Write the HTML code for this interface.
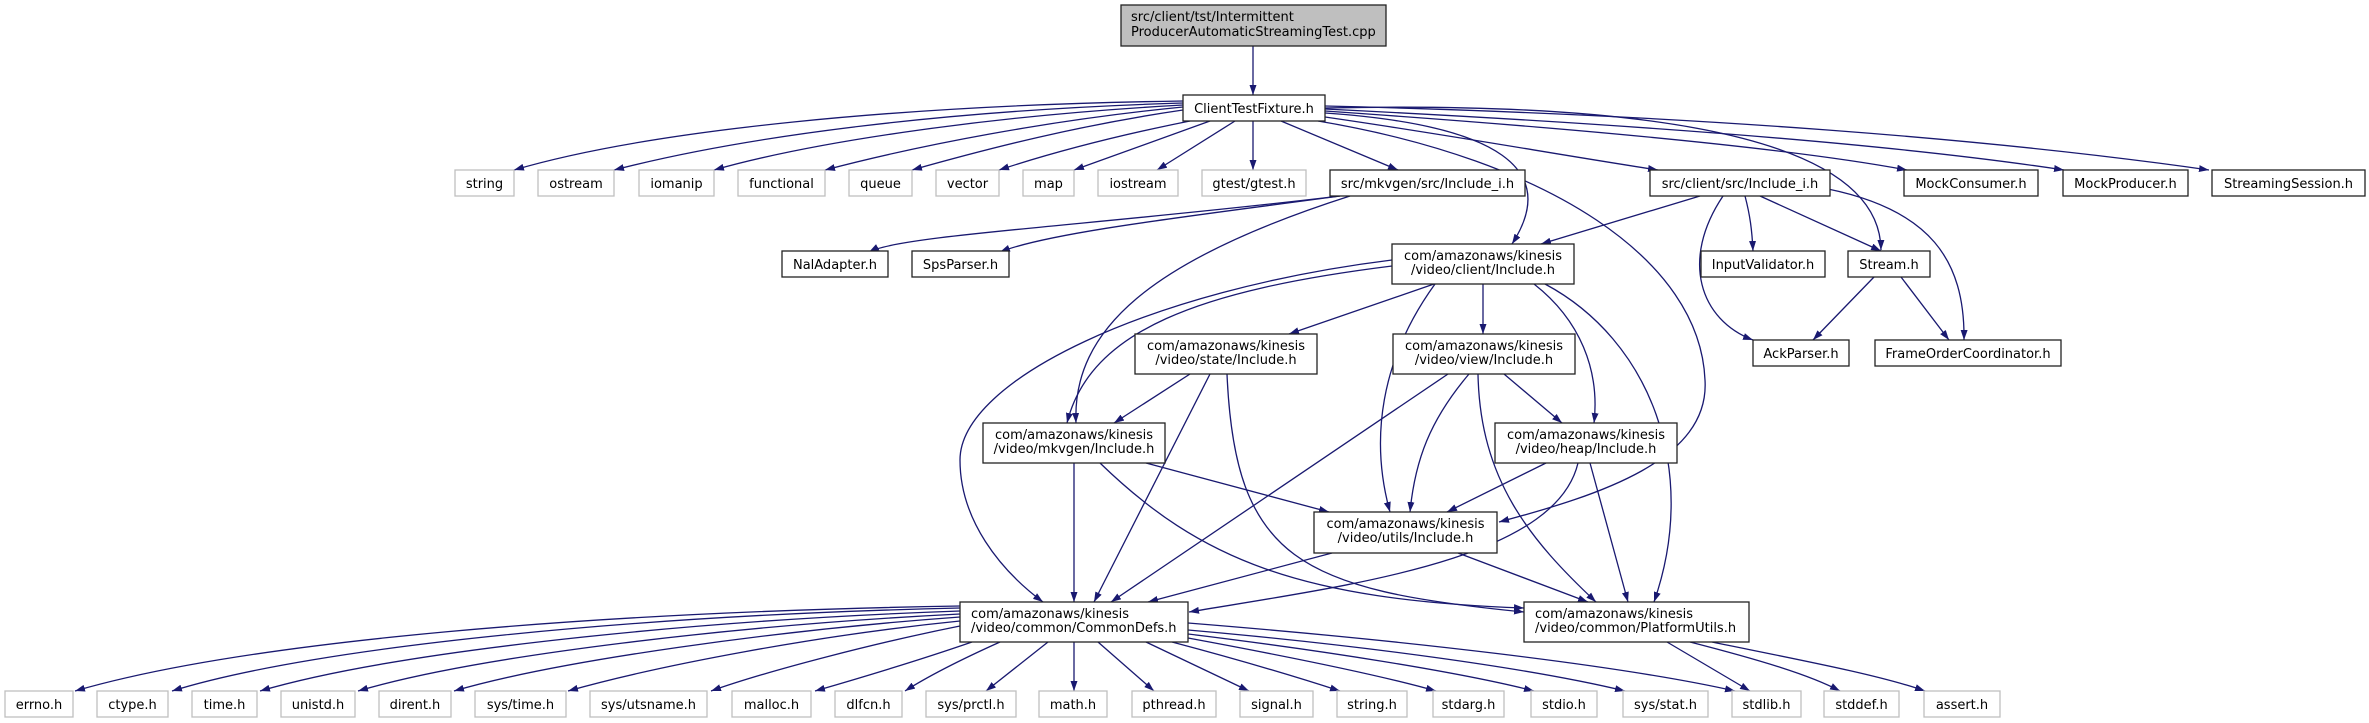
<!DOCTYPE html>
<html><head><meta charset="utf-8"><style>
html,body{margin:0;padding:0;background:#fff;}
svg{display:block;}
text{font-family:"DejaVu Sans","Liberation Sans",sans-serif;font-size:13px;fill:#000;}
.g{fill:#fff;stroke:#bfbfbf;stroke-width:1.3;}
.b{fill:#fff;stroke:#222;stroke-width:1.3;}
.e{fill:none;stroke:#191970;stroke-width:1.3;}
</style></head><body>
<svg width="2369" height="723" viewBox="0 0 2369 723" xmlns="http://www.w3.org/2000/svg">
<defs><marker id="a" viewBox="0 0 10 7" refX="10" refY="3.5" markerWidth="10" markerHeight="7" markerUnits="userSpaceOnUse" orient="auto"><path d="M0,0L10,3.5L0,7z" fill="#191970"/></marker></defs>
<g class="e" marker-end="url(#a)">
<path d="M1253,46L1253,95"/>
<path d="M1183,101C900,105 650,130 514,170"/>
<path d="M1183,103C950,110 750,135 614,170"/>
<path d="M1183,105C1000,115 820,140 714,170"/>
<path d="M1183,107C1050,120 920,145 825,170"/>
<path d="M1183,110C1080,125 990,148 912,170"/>
<path d="M1190,121C1120,135 1060,150 999,170"/>
<path d="M1210,121L1074,170"/>
<path d="M1235,121L1157,170"/>
<path d="M1253,121L1253,170"/>
<path d="M1281,121L1398,170"/>
<path d="M1325,113C1500,125 1560,170 1512,244"/>
<path d="M1325,117C1450,135 1560,155 1658,170"/>
<path d="M1318,121C1550,160 1700,260 1705,380C1710,460 1600,495 1499,522"/>
<path d="M1325,108C1700,100 1880,150 1881,250"/>
<path d="M1325,111C1600,130 1800,150 1907,170"/>
<path d="M1325,109C1650,125 1900,145 2064,170"/>
<path d="M1325,106C1700,115 2000,140 2209,170"/>
<path d="M1340,196C1100,225 900,235 869,252"/>
<path d="M1340,196C1200,215 1050,232 1000,252"/>
<path d="M1350,196C1150,260 1072,330 1076,423"/>
<path d="M1700,196L1541,244"/>
<path d="M1745,196C1750,215 1752,230 1753,251"/>
<path d="M1760,196L1881,251"/>
<path d="M1723,196C1680,260 1700,320 1753,340"/>
<path d="M1828,189C1930,210 1965,260 1964,340"/>
<path d="M1874,277L1813,340"/>
<path d="M1901,277L1949,340"/>
<path d="M1434,284L1289,334"/>
<path d="M1483,284L1483,334"/>
<path d="M1392,266C1200,290 1090,330 1067,423"/>
<path d="M1392,260C1150,290 960,380 960,460C960,520 1000,570 1043,602"/>
<path d="M1435,284C1380,360 1370,440 1390,512"/>
<path d="M1534,284C1580,320 1600,370 1594,423"/>
<path d="M1545,284C1650,340 1700,470 1654,602"/>
<path d="M1190,374L1114,423"/>
<path d="M1210,374L1094,602"/>
<path d="M1227,374C1235,560 1300,590 1524,612"/>
<path d="M1100,463C1200,560 1300,600 1524,608"/>
<path d="M1448,374L1111,602"/>
<path d="M1469,374C1430,420 1415,460 1410,512"/>
<path d="M1504,374L1562,423"/>
<path d="M1478,374C1480,480 1530,540 1596,602"/>
<path d="M1546,463L1447,512"/>
<path d="M1578,463C1555,560 1350,585 1189,612"/>
<path d="M1590,463L1628,602"/>
<path d="M1074,463L1074,602"/>
<path d="M1146,463L1329,512"/>
<path d="M1332,553L1148,602"/>
<path d="M1458,553L1588,602"/>
<path d="M960,606C600,612 250,640 75,691"/>
<path d="M960,608C650,615 320,645 172,691"/>
<path d="M960,611C700,620 400,650 260,691"/>
<path d="M960,614C740,625 480,655 358,691"/>
<path d="M960,617C780,630 560,660 454,691"/>
<path d="M960,621C820,635 660,665 568,691"/>
<path d="M960,626C880,642 770,670 711,691"/>
<path d="M972,642C920,660 860,678 815,691"/>
<path d="M1000,642C960,660 930,675 905,691"/>
<path d="M1048,642L986,691"/>
<path d="M1074,642L1074,691"/>
<path d="M1098,642L1154,691"/>
<path d="M1146,642L1249,691"/>
<path d="M1172,642C1240,660 1300,678 1340,691"/>
<path d="M1188,638C1280,655 1380,675 1436,691"/>
<path d="M1188,634C1320,650 1460,672 1534,691"/>
<path d="M1188,630C1360,645 1530,668 1625,691"/>
<path d="M1188,623C1400,640 1620,665 1735,691"/>
<path d="M1667,642L1750,691"/>
<path d="M1690,642C1760,660 1810,675 1840,691"/>
<path d="M1712,642C1800,660 1880,675 1925,691"/>
</g>
<!-- nodes -->
<rect x="1121" y="5" width="265" height="41" fill="#bfbfbf" stroke="#222" stroke-width="1.3"/>
<text x="1131" y="21">src/client/tst/Intermittent</text>
<text x="1131" y="36">ProducerAutomaticStreamingTest.cpp</text>
<rect class="b" x="1183" y="95" width="142" height="26"/><text x="1254" y="113" text-anchor="middle">ClientTestFixture.h</text>
<g text-anchor="middle">
<rect class="g" x="455" y="170" width="59" height="26"/><text x="484.5" y="188">string</text>
<rect class="g" x="538" y="170" width="76" height="26"/><text x="576" y="188">ostream</text>
<rect class="g" x="639" y="170" width="75" height="26"/><text x="676.5" y="188">iomanip</text>
<rect class="g" x="738" y="170" width="87" height="26"/><text x="781.5" y="188">functional</text>
<rect class="g" x="849" y="170" width="63" height="26"/><text x="880.5" y="188">queue</text>
<rect class="g" x="936" y="170" width="63" height="26"/><text x="967.5" y="188">vector</text>
<rect class="g" x="1023" y="170" width="51" height="26"/><text x="1048.5" y="188">map</text>
<rect class="g" x="1098" y="170" width="80" height="26"/><text x="1138" y="188">iostream</text>
<rect class="g" x="1202" y="170" width="104" height="26"/><text x="1254" y="188">gtest/gtest.h</text>
<rect class="b" x="1330" y="170" width="195" height="26"/><text x="1427.5" y="188">src/mkvgen/src/Include_i.h</text>
<rect class="b" x="1650" y="170" width="180" height="26"/><text x="1740" y="188">src/client/src/Include_i.h</text>
<rect class="b" x="1904" y="170" width="134" height="26"/><text x="1971" y="188">MockConsumer.h</text>
<rect class="b" x="2063" y="170" width="125" height="26"/><text x="2125.5" y="188">MockProducer.h</text>
<rect class="b" x="2212" y="170" width="153" height="26"/><text x="2288.5" y="188">StreamingSession.h</text>
<rect class="b" x="782" y="251" width="106" height="26"/><text x="835" y="269">NalAdapter.h</text>
<rect class="b" x="912" y="251" width="97" height="26"/><text x="960.5" y="269">SpsParser.h</text>
<rect class="b" x="1701" y="251" width="124" height="26"/><text x="1763" y="269">InputValidator.h</text>
<rect class="b" x="1848" y="251" width="82" height="26"/><text x="1889" y="269">Stream.h</text>
<rect class="b" x="1392" y="244" width="182" height="40"/><text x="1483" y="260">com/amazonaws/kinesis</text><text x="1483" y="274">/video/client/Include.h</text>
<rect class="b" x="1753" y="340" width="96" height="26"/><text x="1801" y="358">AckParser.h</text>
<rect class="b" x="1875" y="340" width="186" height="26"/><text x="1968" y="358">FrameOrderCoordinator.h</text>
<rect class="b" x="1135" y="334" width="182" height="40"/><text x="1226" y="350">com/amazonaws/kinesis</text><text x="1226" y="364">/video/state/Include.h</text>
<rect class="b" x="1393" y="334" width="182" height="40"/><text x="1484" y="350">com/amazonaws/kinesis</text><text x="1484" y="364">/video/view/Include.h</text>
<rect class="b" x="983" y="423" width="182" height="40"/><text x="1074" y="439">com/amazonaws/kinesis</text><text x="1074" y="453">/video/mkvgen/Include.h</text>
<rect class="b" x="1495" y="423" width="182" height="40"/><text x="1586" y="439">com/amazonaws/kinesis</text><text x="1586" y="453">/video/heap/Include.h</text>
<rect class="b" x="1314" y="512" width="183" height="41"/><text x="1405.5" y="528">com/amazonaws/kinesis</text><text x="1405.5" y="542">/video/utils/Include.h</text>
</g>
<rect class="b" x="960" y="602" width="228" height="40"/><text x="971" y="618">com/amazonaws/kinesis</text><text x="971" y="632">/video/common/CommonDefs.h</text>
<rect class="b" x="1524" y="602" width="225" height="40"/><text x="1535" y="618">com/amazonaws/kinesis</text><text x="1535" y="632">/video/common/PlatformUtils.h</text>
<g text-anchor="middle">
<rect class="g" x="5" y="691" width="68" height="26"/><text x="39" y="709">errno.h</text>
<rect class="g" x="97" y="691" width="71" height="26"/><text x="132.5" y="709">ctype.h</text>
<rect class="g" x="192" y="691" width="65" height="26"/><text x="224.5" y="709">time.h</text>
<rect class="g" x="281" y="691" width="74" height="26"/><text x="318" y="709">unistd.h</text>
<rect class="g" x="379" y="691" width="72" height="26"/><text x="415" y="709">dirent.h</text>
<rect class="g" x="475" y="691" width="91" height="26"/><text x="520.5" y="709">sys/time.h</text>
<rect class="g" x="590" y="691" width="117" height="26"/><text x="648.5" y="709">sys/utsname.h</text>
<rect class="g" x="732" y="691" width="79" height="26"/><text x="771.5" y="709">malloc.h</text>
<rect class="g" x="835" y="691" width="67" height="26"/><text x="868.5" y="709">dlfcn.h</text>
<rect class="g" x="926" y="691" width="90" height="26"/><text x="971" y="709">sys/prctl.h</text>
<rect class="g" x="1039" y="691" width="68" height="26"/><text x="1073" y="709">math.h</text>
<rect class="g" x="1132" y="691" width="84" height="26"/><text x="1174" y="709">pthread.h</text>
<rect class="g" x="1240" y="691" width="73" height="26"/><text x="1276.5" y="709">signal.h</text>
<rect class="g" x="1337" y="691" width="70" height="26"/><text x="1372" y="709">string.h</text>
<rect class="g" x="1433" y="691" width="71" height="26"/><text x="1468.5" y="709">stdarg.h</text>
<rect class="g" x="1531" y="691" width="66" height="26"/><text x="1564" y="709">stdio.h</text>
<rect class="g" x="1623" y="691" width="85" height="26"/><text x="1665.5" y="709">sys/stat.h</text>
<rect class="g" x="1732" y="691" width="69" height="26"/><text x="1766.5" y="709">stdlib.h</text>
<rect class="g" x="1824" y="691" width="75" height="26"/><text x="1861.5" y="709">stddef.h</text>
<rect class="g" x="1924" y="691" width="76" height="26"/><text x="1962" y="709">assert.h</text>
</g>
</svg>
</body></html>
